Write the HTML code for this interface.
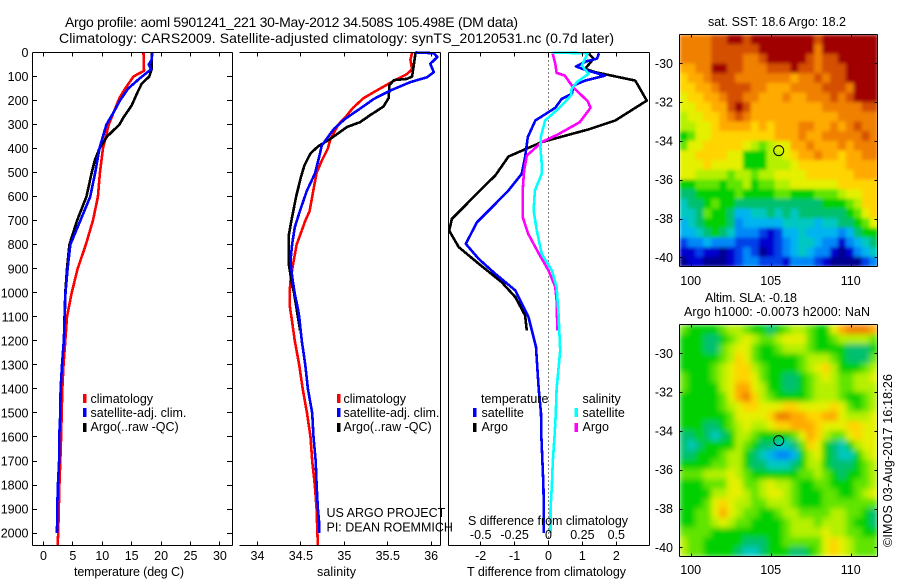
<!DOCTYPE html>
<html lang="en">
<head>
<meta charset="utf-8">
<title>Argo profile</title>
<style>
html,body{margin:0;padding:0;background:#fff;width:900px;height:580px;overflow:hidden}
svg{display:block}
text{font-family:"Liberation Sans",sans-serif;font-size:12.5px;fill:#000}
.title{font-size:14px}
</style>
</head>
<body>
<svg id="chart" xmlns="http://www.w3.org/2000/svg" width="900" height="580" viewBox="0 0 900 580">
<defs>
<filter id="blurA" filterUnits="userSpaceOnUse" x="679" y="34" width="199" height="233"><feGaussianBlur stdDeviation="1.8" edgeMode="duplicate"/></filter>
<filter id="blurB" filterUnits="userSpaceOnUse" x="679" y="324" width="199" height="233"><feGaussianBlur stdDeviation="3" edgeMode="duplicate"/></filter>
<clipPath id="clipA"><rect x="679.5" y="34.5" width="198" height="232"/></clipPath>
<clipPath id="clipB"><rect x="679.5" y="324.5" width="198" height="232"/></clipPath>
</defs>
<text class="title" x="65" y="27" textLength="453">Argo profile: aoml 5901241_221 30-May-2012 34.508S 105.498E (DM data)</text>
<text class="title" x="59" y="43" textLength="555">Climatology: CARS2009. Satellite-adjusted climatology: synTS_20120531.nc (0.7d later)</text>

<g id="maps"></g>
<g id="profiles"></g>
<g id="axes"></g>

<text x="74" y="576" textLength="110">temperature (deg C)</text>
<text x="317" y="576" textLength="39">salinity</text>
<text x="467" y="576" textLength="159">T difference from climatology</text>
<text x="468" y="525" textLength="160">S difference from climatology</text>

<g>
<rect x="83" y="394" width="3.5" height="9" fill="#f00"/>
<rect x="83" y="408" width="3.5" height="9" fill="#00f"/>
<rect x="83" y="423" width="3.5" height="9" fill="#000"/>
<text x="90.5" y="403">climatology</text>
<text x="90.5" y="417">satellite-adj. clim.</text>
<text x="90.5" y="431">Argo(..raw -QC)</text>
</g>
<g>
<rect x="337" y="394" width="3.5" height="9" fill="#f00"/>
<rect x="337" y="408" width="3.5" height="9" fill="#00f"/>
<rect x="337" y="423" width="3.5" height="9" fill="#000"/>
<text x="343.5" y="403">climatology</text>
<text x="343.5" y="417">satellite-adj. clim.</text>
<text x="343.5" y="431">Argo(..raw -QC)</text>
</g>
<g>
<text x="481" y="403">temperature</text>
<text x="582.5" y="403">salinity</text>
<rect x="473" y="408" width="3.5" height="9" fill="#00f"/>
<rect x="473" y="423" width="3.5" height="9" fill="#000"/>
<rect x="574.5" y="408" width="3.5" height="9" fill="#0ff"/>
<rect x="574.5" y="423" width="3.5" height="9" fill="#f0f"/>
<text x="481.5" y="417">satellite</text>
<text x="481.5" y="431">Argo</text>
<text x="582.5" y="417">satellite</text>
<text x="582.5" y="431">Argo</text>
</g>
<text x="326.5" y="517">US ARGO PROJECT</text>
<text x="326.5" y="531.5">PI: DEAN ROEMMICH</text>

<text x="708" y="26" textLength="138">sat. SST: 18.6 Argo: 18.2</text>
<text x="705" y="302" textLength="92">Altim. SLA: -0.18</text>
<text x="684" y="316" textLength="186">Argo h1000: -0.0073 h2000: NaN</text>
<text transform="translate(892,547) rotate(-90)" textLength="173">©IMOS 03-Aug-2017 16:18:26</text>
</svg>

<script>
// ---------- profile data ----------
const depthTicks = [0,100,200,300,400,500,600,700,800,900,1000,1100,1200,1300,1400,1500,1600,1700,1800,1900,2000];
const tempTicks = [0,5,10,15,20,25,30];
const salTicks = [34,34.5,35,35.5,36];
const salTickLabels = ['34','34.5','35','35.5','36'];
const tDiffTicks = [-2,-1,0,1,2];
const sDiffTicks = [-0.5,-0.25,0,0.25,0.5];
const sDiffTickLabels = ['-0.5','-0.25','0','0.25','0.5'];

const tempClimDepth = [0,76,100,150,190,250,300,400,500,600,700,800,900,1000,1100,1200,1300,1400,1500,1600,1700,1800,1900,2000,2052];
const tempClimValue = [17,17.1,15.3,13.9,12.9,11.9,11.1,10.1,9.6,9.25,8.4,7.2,5.8,4.8,4.0,3.7,3.4,3.2,3.1,3.0,2.85,2.7,2.6,2.5,2.4];
const tempSatDepth = [0,30,50,70,107,150,200,250,300,400,500,600,700,800,900,1000,1100,1200,1300,1400,1500,1600,1700,1800,1900,2000];
const tempSatValue = [18.5,18.4,17.9,18.3,16.4,14.4,13,11.9,10.7,9.5,8.8,7.95,6.25,4.55,4.1,3.75,3.6,3.45,3.15,2.9,2.85,2.67,2.65,2.45,2.33,2.3];
const tempArgoDepth = [0,70,100,130,170,220,270,300,350,400,450,500,600,700,800,900,1000,1157];
const tempArgoValue = [18.4,18.4,18,16.7,15.9,15,13.6,12.9,10.8,9.5,8.7,8.2,7.3,5.7,4.4,4,3.7,3.5];

const salClimDepth = [0,30,70,90,130,165,190,230,270,300,360,400,450,500,600,660,700,800,880,950,1000,1050,1100,1200,1300,1400,1500,1600,1700,1800,1900,2000,2052];
const salClimValue = [35.78,35.76,35.78,35.72,35.51,35.34,35.22,35.1,35.01,34.93,34.84,34.81,34.74,34.68,34.63,34.6,34.55,34.45,34.41,34.38,34.37,34.37,34.39,34.43,34.48,34.52,34.57,34.61,34.63,34.66,34.68,34.69,34.695];
const salSatDepth = [0,3,19,47,82,103,123,158,193,234,276,318,387,449,505,574,657,727,796,865,935,1004,1067,1100,1200,1300,1400,1500,1600,1700,1800,1900,1960,2000];
const salSatValue = [35.82,36.03,36.07,35.99,36.03,35.95,35.76,35.53,35.34,35.18,35.01,34.88,34.74,34.7,34.66,34.57,34.49,34.43,34.4,34.38,34.4,34.43,34.465,34.48,34.51,34.55,34.58,34.63,34.645,34.67,34.68,34.695,34.71,34.71];
const salArgoDepth = [0,100,110,115,135,190,225,260,290,310,359,390,420,470,519,600,700,760,880,950,1000,1157];
const salArgoValue = [35.82,35.78,35.72,35.57,35.52,35.51,35.45,35.3,35.18,35.03,34.84,34.7,34.61,34.54,34.5,34.445,34.39,34.36,34.36,34.39,34.42,34.49];

const dTArgoDepth = [3,26,68,82,117,200,283,320,373,433,512,553,637,692,741,810,879,956,1018,1094,1157];
const dTArgoValue = [1.18,1.33,1.08,1.38,2.56,2.9,1.97,1.18,-0.2,-1.18,-1.57,-1.87,-2.46,-2.85,-2.93,-2.65,-2.06,-1.38,-0.98,-0.69,-0.64];
const dTSatDepth = [3,26,36,58,72,96,117,137,172,193,230,283,352,435,505,574,630,706,796,859,921,990,1101,1226,1400,1500,1600,1700,1800,1900,2000];
const dTSatValue = [1.49,1.43,1.13,0.81,1.08,1.67,1.08,0.74,0.69,0.39,0.2,-0.39,-0.61,-0.69,-0.79,-1.18,-1.57,-2.11,-2.44,-2.06,-1.57,-0.98,-0.59,-0.37,-0.29,-0.22,-0.21,-0.18,-0.15,-0.14,-0.14];
const dSArgoDepth = [3,47,85,96,144,203,230,290,341,373,429,491,574,685,755,838,907,976,1032,1157];
const dSArgoValue = [0.03,0.05,0.06,0.12,0.18,0.29,0.31,0.23,0.07,-0.05,-0.16,-0.18,-0.19,-0.19,-0.15,-0.07,0,0.05,0.06,0.066];
const dSSatDepth = [1,3,54,89,123,151,179,234,283,352,394,463,505,574,657,741,838,907,976,1087,1240,1400,1500,1600,1700,1800,1900,2000];
const dSSatValue = [0.03,0.29,0.246,0.295,0.21,0.17,0.167,0.074,-0.025,-0.057,-0.06,-0.05,-0.05,-0.1,-0.11,-0.086,-0.05,0.025,0.06,0.074,0.086,0.06,0.054,0.044,0.032,0.025,0.015,0.015];

// ---------- map data (one hex digit per cell, colour level 0-f) ----------
const lonTicks = [100,105,110];
const latTicks = [30,32,34,36,38,40];
const argoLon = 105.5;
const argoLat = 34.5;
const levelColors = ['#000090','#0000d0','#0040e8','#0088f8','#00b4f0','#00c8c0','#00c070','#00d000','#60e400','#b4f000','#e4f000','#ffd400','#ffaa00','#f08000','#d45000','#a00000'];
const sstRows = [
'ddddeeffeffffffffefffffff',
'ddddeeeeeefffffffdfffffff',
'ddddeeeeddefffffedeefffff',
'ccddffeedddeeefeedeeeffff',
'bccdeeedddddddcddedeeffff',
'bbccdeeeeddcccddddeeedfff',
'abbccdeeddcccdccdddedefff',
'aabbccefecccccccccdddddee',
'9aabbcdedcccccccccccddddd',
'99aabccccbcbcccddccdcdedd',
'78aabbbbbbbbcccdccddddded',
'8aabbbbba989aaccdcccdcddd',
'aabbbbaa77799abccdccbccdd',
'aaabaaaa777999abbbbbbcccc',
'aa9999899899aaaabbbbbbccc',
'77888788978899aaaaaabbbbb',
'667777787777887778889aabb',
'56678776666666666677789bb',
'5568776445565656666667 8ab'.replace(' ', '').slice(0, 25),
'4567776344444555545566 78a'.replace(' ', ''),
'4456765333212445444434677',
'2334333222112345543313456',
'1121101232012345433101345',
'0110001233222133321000023'
];
const slaRows = [
'8777789987767899877acdddc',
'77766789a9889aaa877899998',
'7776689aa8778999877776667',
'7777789ba8777778999876668',
'777789abb98777789ab977789',
'877789abba87766789a98899a',
'877779acca977667899988999',
'777778acdb987777899987789',
'7777789abbaaabbaaaaba8789',
'7777778aaaabddccbbcca999a',
'77766789a99abbcccbaaabbaa',
'667656799877778acb988abaa',
'6567777987665568ba76579aa',
'66777899765433479a765579a',
'7777889976655567997666789',
'888999a987777778898767789',
'777888aa889a9987788777889',
'777799aa989aa98777887789a',
'7778aba998899987778888888',
'7788aca988778998888998876',
'77889a9887777899989998776',
'888877777777789999a998877',
'988777776667788888aba9888',
'988777765567776678aba9888'
];

// ---------- geometry ----------
const SVGNS = 'http://www.w3.org/2000/svg';
const TOP = 52.5, BOTTOM = 545.5;
function yDepth(d){ return 52.5 + 0.2403 * d; }
function xTemp(t){ return 43.5 + 5.88 * t; }
function xSal(s){ return 257.5 + 86.85 * (s - 34); }
function xDT(v){ return 548.5 + 33.9 * v; }
function xDS(v){ return 548.5 + 135.6 * v; }
function xLon(lon){ return 690.7 + 16 * (lon - 100); }
function yLatA(lat){ return 63.3 + 19.4 * (lat - 30); }
function yLatB(lat){ return 353.3 + 19.4 * (lat - 30); }

function make(tag, parent){
  const el = document.createElementNS(SVGNS, tag);
  parent.appendChild(el);
  return el;
}
function rule(parent, name, x1, y1, x2, y2){
  const el = make('line', parent);
  
  
  el.setAttribute('x1', x1);
  el.setAttribute('y1', y1);
  el.setAttribute('x2', x2);
  el.setAttribute('y2', y2);
  el.setAttribute('stroke', '#000');
  el.setAttribute('stroke-width', '1');
  el.setAttribute('shape-rendering', 'crispEdges');
  return el;
}
function label(parent, name, x, y, anchor, str){
  const el = make('text', parent);
  
  
  el.setAttribute('x', x);
  el.setAttribute('y', y);
  el.setAttribute('text-anchor', anchor);
  el.textContent = str;
  return el;
}
function series(parent, name, depths, values, xf, color, width){
  const el = make('polyline', parent);
  
  
  el.setAttribute('fill', 'none');
  el.setAttribute('stroke', color);
  el.setAttribute('stroke-width', width);
  el.setAttribute('stroke-linejoin', 'round');
  el.setAttribute('shape-rendering', 'crispEdges');
  el.setAttribute('points', depths.map((d, i) => xf(values[i]).toFixed(1) + ',' + yDepth(d).toFixed(1)).join(' '));
  return el;
}
function heatmap(parent, name, rows, x0, y0, w, h, filterId, clipId){
  const clip = make('g', parent);
  
  
  clip.setAttribute('clip-path', 'url(#' + clipId + ')');
  const g = make('g', clip);
  g.setAttribute('filter', 'url(#' + filterId + ')');
  const cw = w / 25, ch = h / rows.length;
  rows.forEach((row, r) => {
    for (let c = 0; c < 25; c++) {
      const level = row[Math.min(c, row.length - 1)];
      const cell = make('rect', g);
      
      
      cell.setAttribute('x', (x0 + c * cw).toFixed(2));
      cell.setAttribute('y', (y0 + r * ch).toFixed(2));
      cell.setAttribute('width', (cw + 0.6).toFixed(2));
      cell.setAttribute('height', (ch + 0.6).toFixed(2));
      cell.setAttribute('fill', levelColors[parseInt(level, 16)]);
    }
  });
}
function mapFrame(parent, prefix, x0, y0, x1, y1, yf, xLabelY){
  rule(parent, prefix + '-frame-top', x0, y0, x1, y0);
  rule(parent, prefix + '-frame-bottom', x0, y1, x1, y1);
  rule(parent, prefix + '-frame-left', x0, y0, x0, y1);
  rule(parent, prefix + '-frame-right', x1, y0, x1, y1);
  lonTicks.forEach(v => {
    const x = Math.round(xLon(v)) + 0.5;
    rule(parent, prefix + '-x-tick', x, y0, x, y0 + 3);
    rule(parent, prefix + '-x-tick', x, y1 - 3, x, y1);
    label(parent, prefix + '-x-label', xLon(v), xLabelY, 'middle', String(v));
  });
  latTicks.forEach(v => {
    const y = Math.round(yf(v)) + 0.5;
    rule(parent, prefix + '-y-tick', x0, y, x0 + 3, y);
    rule(parent, prefix + '-y-tick', x1 - 3, y, x1, y);
    label(parent, prefix + '-y-label', 673, yf(v) + 4.5, 'end', '-' + v);
  });
}
function marker(parent, name, lon, lat, yf){
  const el = make('circle', parent);
  
  
  el.setAttribute('cx', xLon(lon));
  el.setAttribute('cy', yf(lat));
  el.setAttribute('r', '5');
  el.setAttribute('fill', 'none');
  el.setAttribute('stroke', '#000');
  el.setAttribute('stroke-width', '1');
}

// ---------- draw ----------
const mapsG = document.getElementById('maps');
heatmap(mapsG, 'sst-heatmap', sstRows, 679.5, 34.5, 198, 232, 'blurA', 'clipA');
heatmap(mapsG, 'sla-heatmap', slaRows, 679.5, 324.5, 198, 232, 'blurB', 'clipB');
mapFrame(mapsG, 'sst-map', 679.5, 34.5, 877.5, 266.5, yLatA, 285);
mapFrame(mapsG, 'sla-map', 679.5, 324.5, 877.5, 556.5, yLatB, 574);
marker(mapsG, 'sst-argo-marker', argoLon, argoLat, yLatA);
marker(mapsG, 'sla-argo-marker', argoLon, argoLat, yLatB);

const prof = document.getElementById('profiles');
const dotted = rule(prof, 'zero-difference-line', 548.5, TOP, 548.5, BOTTOM);
dotted.setAttribute('stroke-dasharray', '1 3');
series(prof, 'temperature-climatology-line', tempClimDepth, tempClimValue, xTemp, '#f00', 2.6);
series(prof, 'temperature-argo-line', tempArgoDepth, tempArgoValue, xTemp, '#000', 2.6);
series(prof, 'temperature-satellite-line', tempSatDepth, tempSatValue, xTemp, '#00f', 2.6);
series(prof, 'salinity-climatology-line', salClimDepth, salClimValue, xSal, '#f00', 2.6);
series(prof, 'salinity-argo-line', salArgoDepth, salArgoValue, xSal, '#000', 2.6);
series(prof, 'salinity-satellite-line', salSatDepth, salSatValue, xSal, '#00f', 2.6);
series(prof, 'temperature-diff-argo-line', dTArgoDepth, dTArgoValue, xDT, '#000', 2.6);
series(prof, 'temperature-diff-satellite-line', dTSatDepth, dTSatValue, xDT, '#00f', 2.6);
series(prof, 'salinity-diff-argo-line', dSArgoDepth, dSArgoValue, xDS, '#f0f', 2.6);
series(prof, 'salinity-diff-satellite-line', dSSatDepth, dSSatValue, xDS, '#0ff', 2.6);

const ax = document.getElementById('axes');
// panel 1
rule(ax, 'temperature-panel-top', 32.5, TOP, 232.5, TOP);
rule(ax, 'temperature-panel-bottom', 32.5, BOTTOM, 232.5, BOTTOM);
rule(ax, 'temperature-panel-left', 32.5, TOP, 32.5, BOTTOM);
rule(ax, 'temperature-panel-right', 232.5, TOP, 232.5, BOTTOM);
depthTicks.forEach(d => {
  const y = Math.round(yDepth(d) - 0.5) + 0.5;
  rule(ax, 'depth-tick', 32.5, y, 37, y);
  rule(ax, 'depth-tick', 227, y, 232.5, y);
  label(ax, 'depth-label', 28.5, yDepth(d) + 4.5, 'end', String(d));
});
tempTicks.forEach(v => {
  const x = Math.round(xTemp(v) - 0.5) + 0.5;
  rule(ax, 'temperature-tick', x, TOP, x, TOP + 4);
  rule(ax, 'temperature-tick', x, BOTTOM - 4, x, BOTTOM);
  label(ax, 'temperature-label', xTemp(v), 560, 'middle', String(v));
});
// panel 2
rule(ax, 'salinity-panel-top', 239.5, TOP, 440.5, TOP);
rule(ax, 'salinity-panel-bottom', 239.5, BOTTOM, 440.5, BOTTOM);
rule(ax, 'salinity-panel-right', 440.5, TOP, 440.5, BOTTOM);
salTicks.forEach((v, i) => {
  const x = Math.round(xSal(v) - 0.5) + 0.5;
  rule(ax, 'salinity-tick', x, TOP, x, TOP + 4);
  rule(ax, 'salinity-tick', x, BOTTOM - 4, x, BOTTOM);
  label(ax, 'salinity-label', xSal(v), 560, 'middle', salTickLabels[i]);
});
// panel 3
rule(ax, 'difference-panel-top', 448.5, TOP, 649.5, TOP);
rule(ax, 'difference-panel-bottom', 448.5, BOTTOM, 649.5, BOTTOM);
rule(ax, 'difference-panel-left', 448.5, TOP, 448.5, BOTTOM);
rule(ax, 'difference-panel-right', 649.5, TOP, 649.5, BOTTOM);
tDiffTicks.forEach(v => {
  const x = Math.round(xDT(v) - 0.5) + 0.5;
  rule(ax, 'difference-tick', x, TOP, x, TOP + 4);
  rule(ax, 'difference-tick', x, BOTTOM - 4, x, BOTTOM);
  label(ax, 't-difference-label', xDT(v), 560, 'middle', String(v));
});
sDiffTicks.forEach((v, i) => {
  label(ax, 's-difference-label', xDS(v), 539, 'middle', sDiffTickLabels[i]);
});
</script>
</body>
</html>
